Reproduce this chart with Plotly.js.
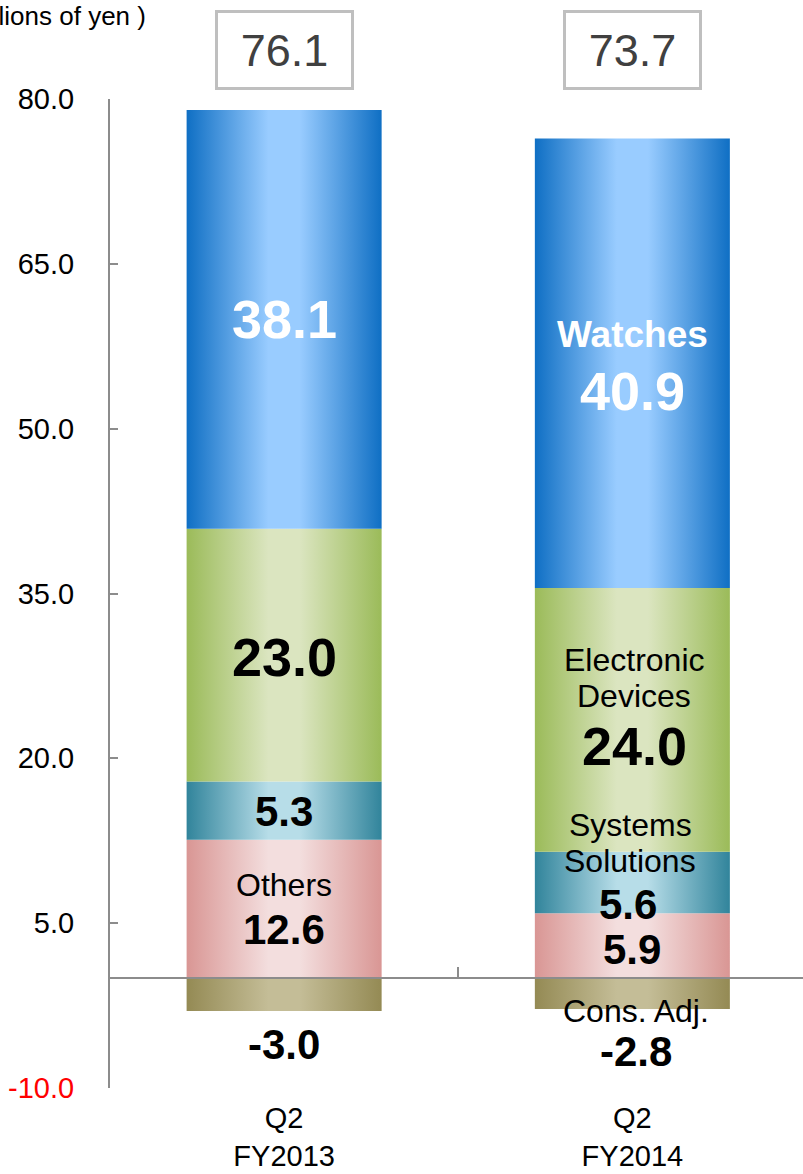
<!DOCTYPE html>
<html><head><meta charset="utf-8">
<script src="https://cdn.plot.ly/plotly-3.0.1.min.js"></script>
<style>html,body{margin:0;padding:0;background:#fff}#chart{width:803px;height:1174px}</style>
</head><body><div id="chart"></div>
<script>
// ---- data ----
const categories = ["Q2<br>FY2013", "Q2<br>FY2014"];
const others = [12.6, 5.9];
const systems = [5.3, 5.6];
const electronic = [23.0, 24.0];
const watches = [38.1, 40.9];
const consAdj = [-3.0, -2.8];
const totals = [76.1, 73.7];
const yTickVals = [-10, 5, 20, 35, 50, 65, 80];
const yTickText = ['<span style="color:#ff0000">-10.0</span>', "5.0", "20.0", "35.0", "50.0", "65.0", "80.0"];

// ---- styles ----
const FONT = "Liberation Sans, Arial, sans-serif";
const seriesDefs = [
  {name: "Others", y: others, edge: "#d99694", mid: "#f3dede"},
  {name: "Systems Solutions", y: systems, edge: "#31849b", mid: "#b7dde8"},
  {name: "Electronic Devices", y: electronic, edge: "#9bbb59", mid: "#dbe5c0"},
  {name: "Watches", y: watches, edge: "#0f6fc4", mid: "#99ccff"},
  {name: "Cons. Adj.", y: consAdj, edge: "#948a54", mid: "#c4bd97"}
];
const xRange = [-0.5, 1.49];
const yRange = [-10, 80];

const traces = seriesDefs.map(s => ({
  type: "bar", x: categories, y: s.y, name: s.name, width: 0.56,
  marker: {color: s.edge, line: {width: 0}}, hoverinfo: "none", showlegend: false
}));

// label helpers (positions derived from data)
const bottomOf = (i, k) => { let b = 0; for (let j = 0; j < k; j++) b += seriesDefs[j].y[i]; return b; };
const midOf = (i, k) => bottomOf(i, k) + seriesDefs[k].y[i] / 2;
const fmt = v => v.toFixed(1);
function lab(i, y, text, size, bold, color, yshift, xshift) {
  return {x: categories[i], y: y, xref: "x", yref: "y", text: bold ? "<b>" + text + "</b>" : text,
    showarrow: false, yshift: yshift || 0, xshift: xshift || 0, yanchor: "middle",
    font: {family: FONT, size: size, color: color || "#000"}};
}
const BIG = 54, MED = 42, REG = 32;
const annotations = [
  // FY2013
  lab(0, midOf(0, 3), fmt(watches[0]), BIG, true, "#fff", 0),
  lab(0, midOf(0, 2), fmt(electronic[0]), BIG, true, "#000", -2),
  lab(0, midOf(0, 1), fmt(systems[0]), MED, true, "#000", -1),
  lab(0, midOf(0, 0), "Others", REG, false, "#000", 24),
  lab(0, midOf(0, 0), fmt(others[0]), MED, true, "#000", -21),
  lab(0, consAdj[0], fmt(consAdj[0]), MED, true, "#000", -33),
  // FY2014
  lab(1, midOf(1, 3), "Watches", 37, true, "#fff", 29),
  lab(1, midOf(1, 3), fmt(watches[1]), BIG, true, "#fff", -28),
  lab(1, midOf(1, 2), "Electronic", REG, false, "#000", 60, 2),
  lab(1, midOf(1, 2), "Devices", REG, false, "#000", 24, 2),
  lab(1, midOf(1, 2), fmt(electronic[1]), BIG, true, "#000", -26, 2),
  lab(1, midOf(1, 1), "Systems", REG, false, "#000", 58, -2),
  lab(1, midOf(1, 1), "Solutions", REG, false, "#000", 22, -2),
  lab(1, midOf(1, 1), fmt(systems[1]), MED, true, "#000", -22, -4),
  lab(1, midOf(1, 0), fmt(others[1]), MED, true, "#000", -4),
  lab(1, consAdj[1], "Cons. Adj.", REG, false, "#000", -2, 4),
  lab(1, consAdj[1], fmt(consAdj[1]), MED, true, "#000", -43, 4)
];
totals.forEach((t, i) => annotations.push({
  x: categories[i], xref: "x", y: 1, yref: "paper", yanchor: "bottom", yshift: 9,
  text: fmt(t), showarrow: false, bgcolor: "#fff", bordercolor: "#bfbfbf",
  borderwidth: 3, borderpad: 8, width: 117, height: 58,
  font: {family: FONT, size: 45, color: "#404040"}
}));
annotations.push({
  xref: "paper", x: 0, xanchor: "right", xshift: 38, yref: "paper", y: 1, yanchor: "middle", yshift: 83,
  text: "(Billions of yen )", showarrow: false, font: {family: FONT, size: 26, color: "#000"}
});

const layout = {
  width: 803, height: 1174,
  margin: {l: 110, r: 0, t: 99, b: 86, pad: 0},
  paper_bgcolor: "#fff", plot_bgcolor: "rgba(0,0,0,0)",
  barmode: "relative", showlegend: false,
  font: {family: FONT, color: "#000"},
  xaxis: {type: "category", range: xRange, anchor: "free", position: (0 - yRange[0]) / (yRange[1] - yRange[0]),
    showline: true, linecolor: "#8c8c8c", linewidth: 2,
    ticks: "inside", tickson: "boundaries", ticklen: 10, tickwidth: 2, tickcolor: "#8c8c8c",
    showgrid: false, zeroline: false,
    tickfont: {family: FONT, size: 29, color: "#000"}, ticklabelstandoff: 114},
  yaxis: {range: yRange, tickvals: yTickVals, ticktext: yTickText, ticks: "inside", ticklen: 8,
    tickwidth: 2, tickcolor: "#8c8c8c", showline: true, linecolor: "#8c8c8c", linewidth: 2,
    showgrid: false, zeroline: false, ticklabelstandoff: 28,
    tickfont: {family: FONT, size: 29, color: "#000"}},
  annotations: annotations
};

Plotly.newPlot("chart", traces, layout, {staticPlot: true, displayModeBar: false}).then(gd => {
  const svg = gd.querySelector("svg.main-svg");
  const NS = "http://www.w3.org/2000/svg";
  let defs = svg.querySelector("defs");
  if (!defs) { defs = document.createElementNS(NS, "defs"); svg.insertBefore(defs, svg.firstChild); }
  seriesDefs.forEach((s, k) => {
    const g = document.createElementNS(NS, "linearGradient");
    g.setAttribute("id", "barGrad" + k);
    g.setAttribute("x1", "0"); g.setAttribute("x2", "1"); g.setAttribute("y1", "0"); g.setAttribute("y2", "0");
    [[0, s.edge], [0.42, s.mid], [0.58, s.mid], [1, s.edge]].forEach(([o, c]) => {
      const st = document.createElementNS(NS, "stop");
      st.setAttribute("offset", o); st.setAttribute("stop-color", c);
      g.appendChild(st);
    });
    defs.appendChild(g);
  });
  gd.querySelectorAll(".barlayer .trace.bars").forEach((tr, k) => {
    tr.querySelectorAll("path").forEach(p => { p.style.fill = "url(#barGrad" + k + ")"; });
  });
});
</script></body></html>
